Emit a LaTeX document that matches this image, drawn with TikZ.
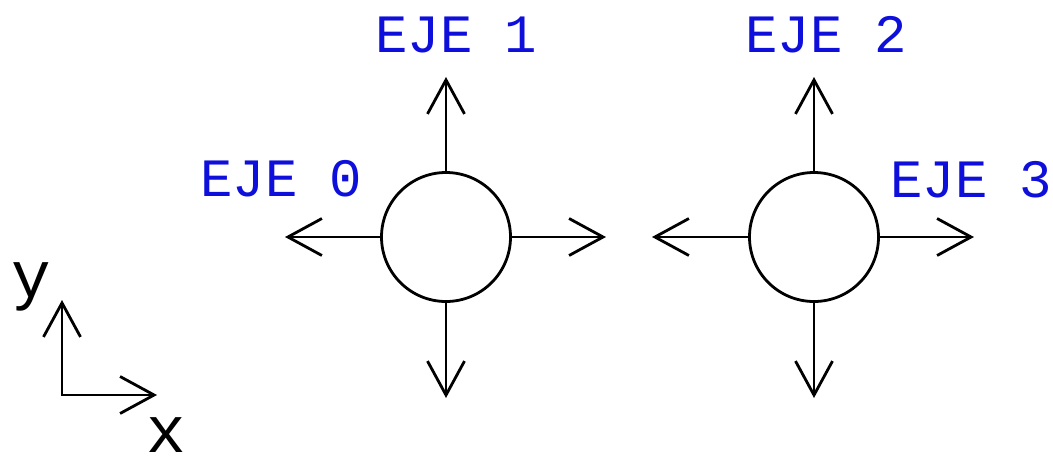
\documentclass[tikz,border=0pt]{standalone}
\usepackage{fontspec}
\newfontfamily\cadfont{Liberation Mono}
\usetikzlibrary{arrows.meta}
\definecolor{ejeblue}{RGB}{15,15,220}
\begin{document}
\begin{tikzpicture}[x=1pt,y=-1pt,
  line/.style={line width=2.8pt,black},
  arr/.style={line,-{Straight Barb[length=34pt,width=37pt,line width=2.8pt]}},
  arrboth/.style={line,{Straight Barb[length=34pt,width=37pt,line width=2.8pt]}-{Straight Barb[length=34pt,width=37pt,line width=2.8pt]}},
  hub/.style={circle,draw,line width=2.8pt,minimum size=129pt,inner sep=0pt},
  lbl/.style={font=\cadfont\fontsize{54}{54}\selectfont,text=ejeblue,inner sep=0pt,anchor=west},
  axl/.style={font=\cadfont\fontsize{66}{66}\selectfont,inner sep=0pt,anchor=base}]
\useasboundingbox (0,0) rectangle (1053,456);
\node[hub] (c1) at (446,237) {};
\node[hub] (c2) at (814,237) {};
\coordinate (c1n) at (446,77);
\coordinate (c1s) at (446,398);
\coordinate (c1w) at (285,237);
\coordinate (c1e) at (606,237);
\coordinate (c2n) at (814,77);
\coordinate (c2s) at (814,398);
\coordinate (c2w) at (652,237);
\coordinate (c2e) at (974,237);
\draw[arr] (c1.north) -- (c1n);
\draw[arr] (c1.south) -- (c1s);
\draw[arr] (c1.west) -- (c1w);
\draw[arr] (c1.east) -- (c1e);
\draw[arr] (c2.north) -- (c2n);
\draw[arr] (c2.south) -- (c2s);
\draw[arr] (c2.west) -- (c2w);
\draw[arr] (c2.east) -- (c2e);
\coordinate (o) at (62,395);
\coordinate (ay) at (62,300);
\coordinate (ax) at (157,395);
\draw[arrboth] (ay) -- (o) -- (ax);
\node[lbl] (e0) at (200,179) {EJE 0};
\node[lbl] (e1) at (375,34.5) {EJE 1};
\node[lbl] (e2) at (745,34.5) {EJE 2};
\node[lbl] (e3) at (890,179.5) {EJE 3};
\node[axl] (ly) at (31,297) {y};
\node[axl] (lx) at (166,452) {x};
\end{tikzpicture}
\end{document}
